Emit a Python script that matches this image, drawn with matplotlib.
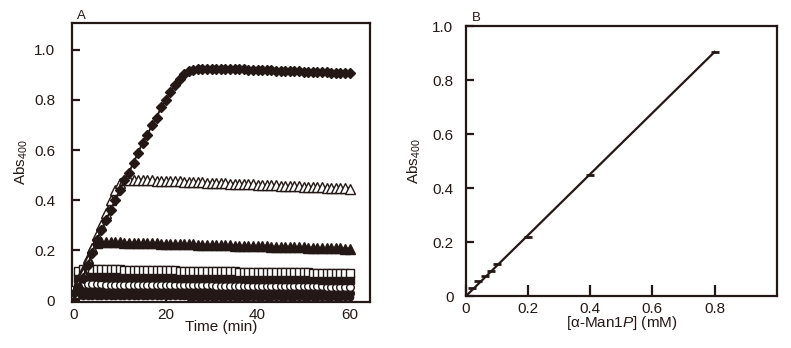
import numpy as np
import matplotlib
matplotlib.use('Agg')
import matplotlib.pyplot as plt

plt.rcParams['font.family'] = ['Liberation Sans', 'DejaVu Sans']
plt.rcParams['mathtext.fontset'] = 'custom'
plt.rcParams['mathtext.rm'] = 'Liberation Sans'
plt.rcParams['mathtext.it'] = 'Liberation Sans:italic'

INK = '#231815'

# PANEL A DATA: absorbance at 400 nm vs time (min), one series per substrate level
time_min = list(range(0, 61))

abs_08 = [0.03, 0.05, 0.09, 0.14, 0.19, 0.24, 0.28, 0.32, 0.36, 0.40,
          0.44, 0.48, 0.51, 0.55, 0.59, 0.63, 0.66, 0.70, 0.73, 0.77,
          0.80, 0.83, 0.86, 0.885, 0.905, 0.915, 0.92, 0.922, 0.924, 0.925,
          0.925, 0.925, 0.924, 0.924, 0.923, 0.923, 0.922, 0.922, 0.921, 0.920,
          0.920, 0.919, 0.918, 0.918, 0.917, 0.916, 0.916, 0.915, 0.914, 0.914,
          0.913, 0.912, 0.912, 0.911, 0.910, 0.910, 0.909, 0.908, 0.908, 0.907,
          0.906]
abs_04 = [0.03, 0.06, 0.11, 0.16, 0.21, 0.26, 0.30, 0.35, 0.40, 0.44,
          0.47, 0.48, 0.482, 0.482, 0.481, 0.480, 0.480, 0.479, 0.478, 0.478,
          0.477, 0.476, 0.475, 0.475, 0.474, 0.473, 0.472, 0.472, 0.471, 0.470,
          0.469, 0.469, 0.468, 0.467, 0.466, 0.466, 0.465, 0.464, 0.463, 0.463,
          0.462, 0.461, 0.460, 0.460, 0.459, 0.458, 0.457, 0.457, 0.456, 0.455,
          0.454, 0.453, 0.453, 0.452, 0.451, 0.450, 0.449, 0.449, 0.448, 0.447,
          0.446]
abs_02 = [0.03, 0.07, 0.12, 0.17, 0.21, 0.228, 0.232, 0.232, 0.232, 0.231,
          0.231, 0.230, 0.230, 0.229, 0.229, 0.228, 0.228, 0.227, 0.227, 0.226,
          0.226, 0.225, 0.225, 0.224, 0.224, 0.223, 0.223, 0.222, 0.222, 0.221,
          0.221, 0.220, 0.220, 0.219, 0.219, 0.218, 0.218, 0.217, 0.217, 0.216,
          0.216, 0.215, 0.215, 0.214, 0.214, 0.213, 0.213, 0.212, 0.212, 0.211,
          0.211, 0.210, 0.210, 0.209, 0.209, 0.208, 0.208, 0.207, 0.207, 0.206,
          0.206]
abs_01 = [0.04, 0.118, 0.125, 0.125, 0.125, 0.124, 0.124, 0.124, 0.123, 0.123,
          0.123, 0.122, 0.122, 0.122, 0.121, 0.121, 0.121, 0.120, 0.120, 0.120,
          0.119, 0.119, 0.119, 0.118, 0.118, 0.118, 0.117, 0.117, 0.117, 0.116,
          0.116, 0.116, 0.115, 0.115, 0.115, 0.115, 0.114, 0.114, 0.114, 0.114,
          0.113, 0.113, 0.113, 0.113, 0.112, 0.112, 0.112, 0.112, 0.111, 0.111,
          0.111, 0.111, 0.110, 0.110, 0.110, 0.110, 0.110, 0.109, 0.109, 0.109,
          0.109]
abs_008 = [0.03, 0.090, 0.095, 0.095, 0.095, 0.095, 0.094, 0.094, 0.094, 0.094,
           0.093, 0.093, 0.093, 0.093, 0.092, 0.092, 0.092, 0.092, 0.091, 0.091,
           0.091, 0.091, 0.090, 0.090, 0.090, 0.090, 0.089, 0.089, 0.089, 0.089,
           0.088, 0.088, 0.088, 0.088, 0.087, 0.087, 0.087, 0.087, 0.086, 0.086,
           0.086, 0.086, 0.085, 0.085, 0.085, 0.085, 0.084, 0.084, 0.084, 0.084,
           0.083, 0.083, 0.083, 0.083, 0.082, 0.082, 0.082, 0.082, 0.081, 0.081,
           0.081]
abs_004 = [0.03, 0.060, 0.063, 0.063, 0.063, 0.063, 0.063, 0.062, 0.062, 0.062,
           0.062, 0.062, 0.062, 0.061, 0.061, 0.061, 0.061, 0.061, 0.061, 0.060,
           0.060, 0.060, 0.060, 0.060, 0.060, 0.059, 0.059, 0.059, 0.059, 0.059,
           0.059, 0.058, 0.058, 0.058, 0.058, 0.058, 0.058, 0.057, 0.057, 0.057,
           0.057, 0.057, 0.057, 0.056, 0.056, 0.056, 0.056, 0.056, 0.056, 0.055,
           0.055, 0.055, 0.055, 0.055, 0.055, 0.054, 0.054, 0.054, 0.054, 0.054,
           0.054]
abs_002 = [0.025, 0.036, 0.038, 0.038, 0.038, 0.038, 0.038, 0.038, 0.037, 0.037,
           0.037, 0.037, 0.037, 0.037, 0.037, 0.036, 0.036, 0.036, 0.036, 0.036,
           0.036, 0.036, 0.035, 0.035, 0.035, 0.035, 0.035, 0.035, 0.035, 0.034,
           0.034, 0.034, 0.034, 0.034, 0.034, 0.034, 0.033, 0.033, 0.033, 0.033,
           0.033, 0.033, 0.033, 0.032, 0.032, 0.032, 0.032, 0.032, 0.032, 0.032,
           0.031, 0.031, 0.031, 0.031, 0.031, 0.031, 0.031, 0.030, 0.030, 0.030,
           0.030]
abs_000 = [0.015, 0.016, 0.016, 0.016, 0.016, 0.016, 0.016, 0.016, 0.016, 0.016,
           0.015, 0.015, 0.015, 0.015, 0.015, 0.015, 0.015, 0.015, 0.015, 0.015,
           0.015, 0.015, 0.015, 0.015, 0.015, 0.014, 0.014, 0.014, 0.014, 0.014,
           0.014, 0.014, 0.014, 0.014, 0.014, 0.014, 0.014, 0.014, 0.014, 0.014,
           0.013, 0.013, 0.013, 0.013, 0.013, 0.013, 0.013, 0.013, 0.013, 0.013,
           0.013, 0.013, 0.013, 0.013, 0.012, 0.012, 0.012, 0.012, 0.012, 0.012,
           0.012]

# PANEL B DATA: final absorbance vs alpha-Man1P concentration (mM)
conc_mM = [0.02, 0.04, 0.06, 0.08, 0.10, 0.20, 0.40, 0.80]
abs_final = [0.030, 0.057, 0.075, 0.093, 0.118, 0.220, 0.450, 0.905]

# series styles for panel A: (data, marker, filled, size)
series_a = [
    (abs_000, 'o', True, 4.5),
    (abs_002, 'o', True, 5.5),
    (abs_004, 'o', False, 5.5),
    (abs_008, 's', True, 5.5),
    (abs_01, 's', False, 6),
    (abs_02, '^', True, 6.5),
    (abs_04, '^', False, 7),
    (abs_08, 'D', True, 5.5),
]

fig = plt.figure(figsize=(7.91, 3.48), dpi=100)
ax_a = fig.add_axes([0.091, 0.132, 0.377, 0.802])
ax_b = fig.add_axes([0.589, 0.149, 0.393, 0.776])

for ax in (ax_a, ax_b):
    for sp in ax.spines.values():
        sp.set_linewidth(1.6)
        sp.set_color(INK)
    ax.tick_params(direction='in', length=6, width=1.6, labelsize=11,
                   color=INK, labelcolor=INK)
    ax.tick_params(axis='x', pad=4)

# PANEL A
for data, mk, filled, ms in series_a:
    ax_a.plot(time_min, data, color=INK, lw=1.4, marker=mk, ms=ms,
              mfc=INK if filled else 'white', mec=INK, mew=1.0, zorder=3)
ax_a.set_xlim(-0.4, 64.5)
ax_a.set_ylim(-0.008, 1.108)
ax_a.set_xticks([0, 20, 40, 60])
ax_a.set_yticks([0, 0.2, 0.4, 0.6, 0.8, 1.0])
ax_a.set_yticklabels(['0', '0.2', '0.4', '0.6', '0.8', '1.0'])
ax_a.tick_params(axis='y', pad=12)
ax_a.set_xlabel('Time (min)', fontsize=11, labelpad=-1, color=INK)
ax_a.set_ylabel('Abs$_{400}$', fontsize=11, labelpad=3, color=INK)
ax_a.text(0.6, 1.125, 'A', fontsize=9.5, color=INK)

# PANEL B
slope = np.sum(np.array(conc_mM) * np.array(abs_final)) / np.sum(np.array(conc_mM) ** 2)
ax_b.plot([0, conc_mM[-1]], [0, slope * conc_mM[-1]], color=INK, lw=1.6)
ax_b.plot(conc_mM, abs_final, ls='none', marker='_', ms=6, mew=2, color=INK)
ax_b.set_xlim(0, 1.0)
ax_b.set_ylim(0, 1.0)
ax_b.set_xticks([0, 0.2, 0.4, 0.6, 0.8])
ax_b.set_xticklabels(['0', '0.2', '0.4', '0.6', '0.8'])
ax_b.set_yticks([0, 0.2, 0.4, 0.6, 0.8, 1.0])
ax_b.set_yticklabels(['0', '0.2', '0.4', '0.6', '0.8', '1.0'])
ax_b.tick_params(axis='x', length=8)
ax_b.tick_params(axis='y', pad=9)
ax_b.set_xlabel(r'[α-Man1$\it{P}$] (mM)', fontsize=11, labelpad=-1, color=INK)
ax_b.set_ylabel('Abs$_{400}$', fontsize=11, labelpad=7, color=INK)
ax_b.text(0.02, 1.02, 'B', fontsize=9.5, color=INK)

fig.savefig('out.png', dpi=100)
